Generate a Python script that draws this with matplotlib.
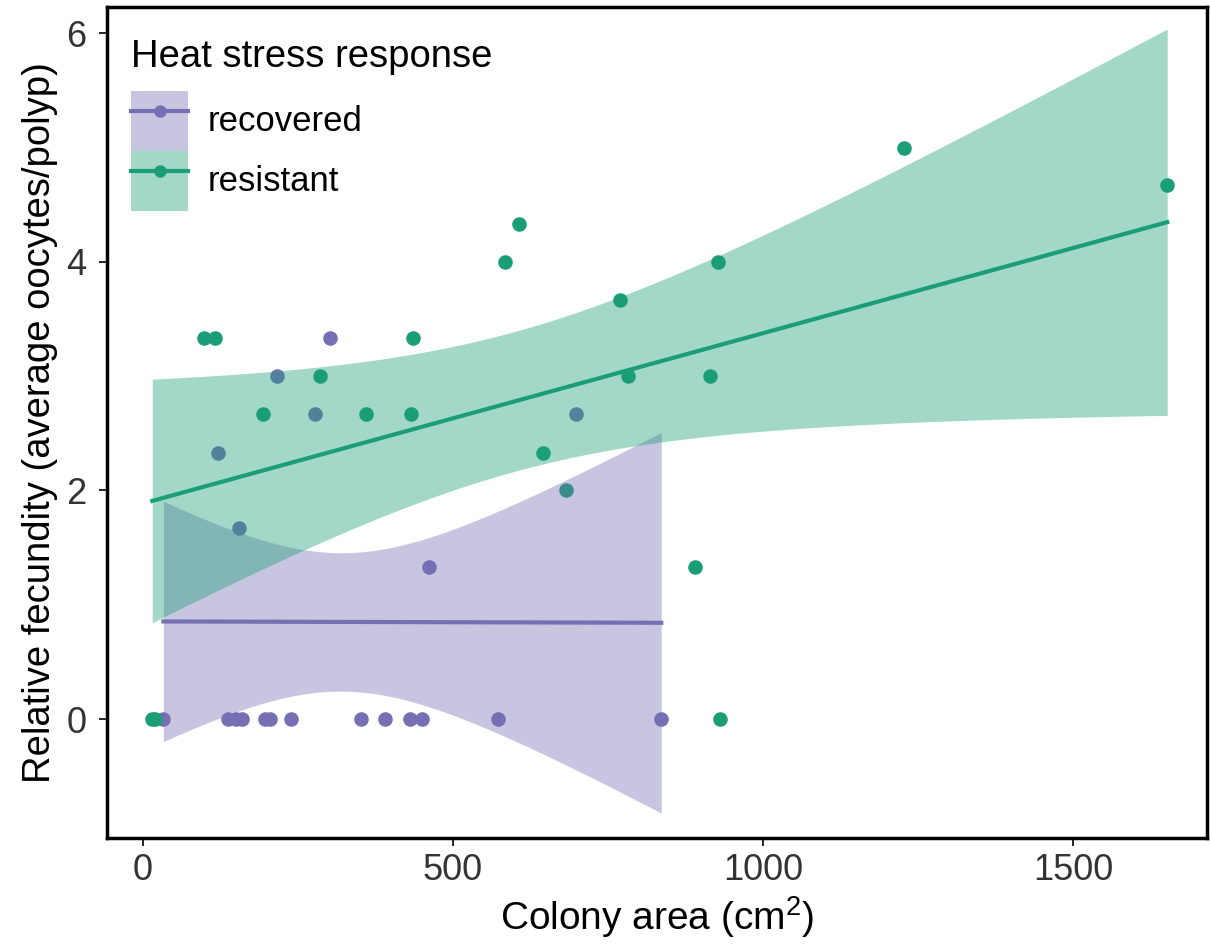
import numpy as np
import matplotlib
matplotlib.use("Agg")
import matplotlib.pyplot as plt
from matplotlib.patches import Patch
from matplotlib.lines import Line2D
from matplotlib.legend_handler import HandlerTuple

try:
    from scipy import stats

    def t_crit(df):
        return stats.t.ppf(0.975, df)
except ImportError:
    def t_crit(df):
        return 2.10  # ~t(0.975) for 18-19 df

plt.rcParams["font.family"] = ["Liberation Sans", "DejaVu Sans"]
plt.rcParams["mathtext.fontset"] = "custom"
plt.rcParams["mathtext.rm"] = "Liberation Sans"

# data
recovered_x = [302, 217, 278, 698, 121, 155, 461,
               33, 137, 150, 160, 197, 205, 239, 352, 391, 431, 450, 573, 836]
recovered_y = [3.33, 3.0, 2.67, 2.67, 2.33, 1.67, 1.33,
               0, 0, 0, 0, 0, 0, 0, 0, 0, 0, 0, 0, 0]

resistant_x = [15, 20, 99, 116, 193, 285, 359, 433, 435, 584, 606,
               646, 682, 770, 783, 891, 914, 927, 930, 1227, 1652]
resistant_y = [0, 0, 3.33, 3.33, 2.67, 3.0, 2.67, 2.67, 3.33, 4.0, 4.33,
               2.33, 2.0, 3.67, 3.0, 1.33, 3.0, 4.0, 0, 5.0, 4.67]

groups = ["recovered", "resistant"]
colors = {"recovered": "#7570b3", "resistant": "#1b9e77"}
x_ticks = [0, 500, 1000, 1500]
y_ticks = [0, 2, 4, 6]


def lm_fit(x, y, n_grid=100):
    """linear fit with 95% confidence band (like geom_smooth(method='lm'))"""
    x = np.asarray(x, float)
    y = np.asarray(y, float)
    slope, intercept = np.polyfit(x, y, 1)
    grid = np.linspace(x.min(), x.max(), n_grid)
    fit = intercept + slope * grid
    resid = y - (intercept + slope * x)
    n = len(x)
    s = np.sqrt(np.sum(resid ** 2) / (n - 2))
    se = s * np.sqrt(1 / n + (grid - x.mean()) ** 2 / np.sum((x - x.mean()) ** 2))
    t = t_crit(n - 2)
    return grid, fit, fit - t * se, fit + t * se


fig = plt.figure(figsize=(12.1, 9.49), dpi=100)
ax = fig.add_axes([0.0884, 0.117, 0.909, 0.8757])

data = {"recovered": (recovered_x, recovered_y),
        "resistant": (resistant_x, resistant_y)}

# points first, then smooths on top (ggplot layer order)
for g in groups:
    gx, gy = data[g]
    ax.scatter(gx, gy, s=110, color=colors[g], linewidths=0, zorder=2)

for i, g in enumerate(groups):
    gx, gy = data[g]
    grid, fit, lo, hi = lm_fit(gx, gy)
    ax.fill_between(grid, lo, hi, color=colors[g], alpha=0.4, linewidth=0,
                    zorder=3 + 2 * i)
    ax.plot(grid, fit, color=colors[g], linewidth=3, zorder=4 + 2 * i)

ax.set_xlim(-58, 1716)
ax.set_ylim(-1.04, 6.23)
ax.set_xticks(x_ticks)
ax.set_yticks(y_ticks)
ax.tick_params(labelsize=26, labelcolor="#333333", length=6, width=1.2,
               direction="out")
ax.tick_params(axis="y", pad=9)
ax.tick_params(axis="x", pad=5)
for sp in ax.spines.values():
    sp.set_linewidth(2.5)
    sp.set_color("black")

ax.set_xlabel("Colony area (cm$^{2}$)", fontsize=28, labelpad=4)
ax.set_ylabel("Relative fecundity (average oocytes/polyp)", fontsize=27.5,
              labelpad=6)

handles = [
    (Patch(facecolor=colors[g], alpha=0.4, linewidth=0),
     Line2D([], [], color=colors[g], linewidth=3, marker="o", markersize=8))
    for g in groups
]
leg = ax.legend(handles, groups, title="Heat stress response",
                handler_map={tuple: HandlerTuple(ndivide=1, pad=0)},
                loc="upper left", bbox_to_anchor=(0.022, 0.961),
                frameon=False, fontsize=25, title_fontsize=27.5,
                handlelength=1.64, handleheight=2.28, labelspacing=0,
                handletextpad=0.55, borderpad=0, borderaxespad=0,
                alignment="left")
leg._legend_box.sep = 11  # gap under the title, keys stay touching

fig.savefig("out.png", dpi=100)
